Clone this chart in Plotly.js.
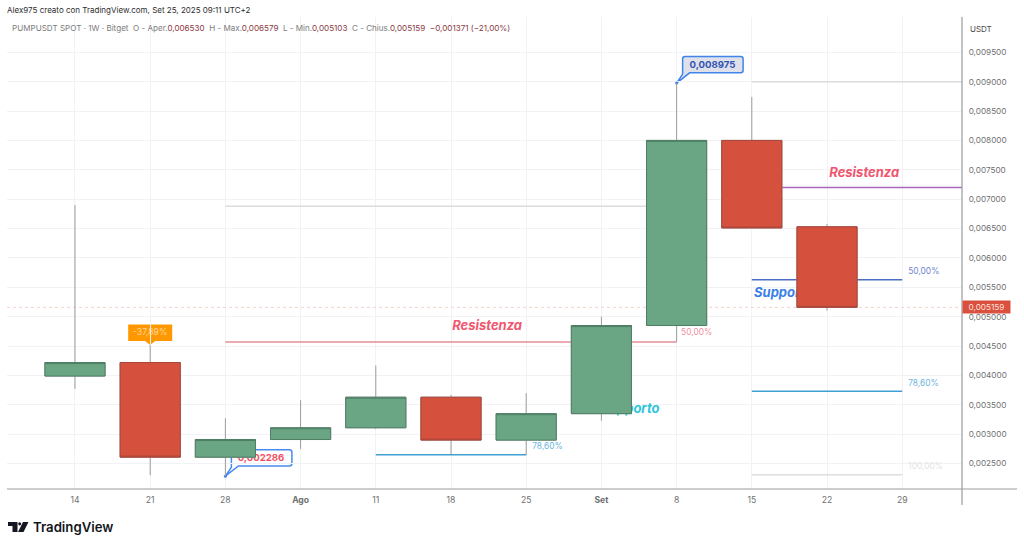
<!DOCTYPE html>
<html><head><meta charset="utf-8">
<script src="https://cdn.plot.ly/plotly-3.0.1.min.js"></script>
<style>html,body{margin:0;padding:0;background:#fff;overflow:hidden}#c{width:1024px;height:547px}</style>
</head><body><div id="c"></div>
<script>
// ---- data ----
const tickLabels = ['14','21','28','<b>Ago</b>','11','18','25','<b>Set</b>','8','15','22','29'];
const weekIdx = [0,1,2,3,4,5,6,7,8,9,10];
const opens  = [0.00399,0.00422,0.00261,0.00291,0.00311,0.00363,0.00290,0.00335,0.00485,0.00800,0.006530];
const highs  = [0.00690,0.00452,0.00327,0.00358,0.00417,0.00367,0.00370,0.00500,0.008975,0.00874,0.006579];
const lows   = [0.00377,0.00230,0.002286,0.00275,0.00309,0.00265,0.00265,0.00323,0.00457,0.00651,0.005103];
const closes = [0.00422,0.00261,0.00291,0.00311,0.00363,0.00290,0.00335,0.00485,0.00800,0.00651,0.005159];
const priceTicks = [0.0025,0.003,0.0035,0.004,0.0045,0.005,0.0055,0.006,0.0065,0.007,0.0075,0.008,0.0085,0.009,0.0095];
const lastPrice = 0.005159;

const levelStart = [9, 9, 2, 2, 9, 9, 4, 9];
const levelEnd   = [11.8,11.8,8,8,11,11,6,11];
const levelValue = [0.00900,0.00720,0.00688,0.00457,0.00563,0.00373,0.00265,0.00231];
const levelColor = ['#dcdcdc','#a868bc','#dcdcdc','#e58e99','#4a6cc4','#3f9fd2','#3f9fd2','#dedede'];

const pctText  = ['0,00%','50,00%','50,00%','78,60%','78,60%','100,00%'];
const pctX     = [8.06,8.06,11.08,11.08,6.08,11.08];
const pctY     = [0.00700,0.00472,0.00577,0.00386,0.00278,0.00245];
const pctColor = ['#e6e6e6','#f08fa3','#6f86cf','#6db6dc','#6db6dc','#e4e4e4'];

const noteText  = ['Resistenza','Resistenza','Supporto','Supporto'];
const noteX     = [5.48,10.03,9.03,7.38];
const noteY     = [0.00483,0.00743,0.00539,0.00342];
const noteColor = ['#f0566e','#f0566e','#3b7fe6','#2ec4da'];
const notePos   = ['middle center','middle right','middle right','middle center'];

const legendLabels = ['O - Aper.','H - Max.','L - Min.','C - Chius.'];
const legendValues = ['0,006530','0,006579','0,005103','0,005159'];
const legendChange = '\u22120,001371 (\u221221,00%)';

// ---- layout geometry ----
const W=1024,H=547,L=7,R=962,T=17,B=489;
const xr=[-0.904,11.795], yr=[0.002068,0.0101];
const xp=x=>(x-L)/(R-L), yp=y=>(B-y)/(B-T);
const fnt='Inter, "Noto Sans", sans-serif';

const levelTraces = levelValue.map((v,i)=>({type:'scatter',mode:'lines',x:[levelStart[i],levelEnd[i]],y:[v,v],
  line:{color:levelColor[i],width:1.5},hoverinfo:'skip',showlegend:false}));
const priceLine = {type:'scatter',mode:'lines',x:xr,y:[lastPrice,lastPrice],line:{color:'#f3d3cf',width:1,dash:'dot'},hoverinfo:'skip',showlegend:false};
const pctTrace = {type:'scatter',mode:'text',x:pctX,y:pctY,text:pctText,textposition:'middle right',
  textfont:{family:fnt,size:8.4,color:pctColor},hoverinfo:'skip',showlegend:false};
const noteTrace = {type:'scatter',mode:'text',x:noteX,y:noteY,text:noteText,textposition:notePos,
  textfont:{family:fnt,size:13,color:noteColor,style:'italic',weight:700},hoverinfo:'skip',showlegend:false};
const calloutText = {type:'scatter',mode:'text',x:[8.477,2.473,1],y:[0.009274,0.002584,0.00473],
  text:['0,008975','0,002286','-37,89%'],textposition:'middle center',
  textfont:{family:fnt,size:[9.6,9.6,8.6],weight:[700,700,400],color:['#3553b5','#ef4f63','#ffd79c']},hoverinfo:'skip',showlegend:false};
const tips = {type:'scatter',mode:'markers',x:[8,2],y:[0.008975,0.002286],marker:{color:'#3f7fe8',size:3},hoverinfo:'skip',showlegend:false};

const wicks = {type:'candlestick',xaxis:'x2',yaxis:'y2',x:weekIdx,open:opens,high:highs,low:lows,close:closes,whiskerwidth:0,
  increasing:{line:{color:'#9c9c9c',width:1},fillcolor:'#6aa584'},decreasing:{line:{color:'#9c9c9c',width:1},fillcolor:'#d6503e'},hoverinfo:'skip',showlegend:false};
const bodies = {type:'candlestick',xaxis:'x2',yaxis:'y2',x:weekIdx,open:opens,close:closes,
  high:opens.map((o,i)=>Math.max(o,closes[i])),low:opens.map((o,i)=>Math.min(o,closes[i])),whiskerwidth:0,
  increasing:{line:{color:'#4f7f66',width:1},fillcolor:'#6aa584'},decreasing:{line:{color:'#a8463a',width:1},fillcolor:'#d6503e'},hoverinfo:'skip',showlegend:false};

const callout=(x,y,path,fill,line)=>({type:'path',layer:'below',xref:'x',yref:'y',xsizemode:'pixel',ysizemode:'pixel',xanchor:x,yanchor:y,path,fillcolor:fill,line:{color:line,width:1.5}});
const tail='M0 0 L6 9 L6 24 Q6 26.5 8.5 26.5 L64 26.5 Q66.5 26.5 66.5 24 L66.5 12.8 Q66.5 10.3 64 10.3 L13 10.3 Z';
const shapes=[
  callout(8,0.008975,tail,'#dfe1ea','#4084ea'),
  callout(2,0.002286,tail,'#ffffff','#4a8af0'),
  {type:'path',layer:'below',xref:'x',yref:'y',xsizemode:'pixel',ysizemode:'pixel',xanchor:1,yanchor:0.00452,
   path:'M0 0 L-5 4 L-22 4 L-22 20.5 L22 20.5 L22 4 L5 4 Z',fillcolor:'#ff9800',line:{width:0}},
  {type:'line',xref:'paper',yref:'paper',x0:0,x1:xp(1017),y0:0,y1:0,line:{color:'#9b9b9b',width:1.2}},
  {type:'line',xref:'paper',yref:'paper',x0:1,x1:1,y0:yp(505),y1:1,line:{color:'#9b9b9b',width:1.2}},
  // TradingView logo mark
  {type:'path',xref:'paper',yref:'paper',line:{width:0},fillcolor:'#131722',
   path:`M${xp(8)} ${yp(522)} L${xp(17.5)} ${yp(522)} L${xp(17.5)} ${yp(532)} L${xp(12.5)} ${yp(532)} L${xp(12.5)} ${yp(526)} L${xp(8)} ${yp(526)} Z`},
  {type:'circle',xref:'paper',yref:'paper',line:{width:0},fillcolor:'#131722',x0:xp(18.2),x1:xp(21.2),y0:yp(525.4),y1:yp(522.2)},
  {type:'path',xref:'paper',yref:'paper',line:{width:0},fillcolor:'#131722',
   path:`M${xp(23)} ${yp(522)} L${xp(28.5)} ${yp(522)} L${xp(23.5)} ${yp(532)} L${xp(18)} ${yp(532)} Z`}
];

const grey='#7d7d7d',dark='#8a3b3f';
const legendParts = legendLabels.map((l,i)=>`<span style="color:${grey}">${l}</span><span style="color:${dark}">${legendValues[i]}</span>`).join('  ');
const annotations=[
  {xref:'paper',yref:'paper',x:xp(5),y:yp(10.5),xanchor:'left',yanchor:'middle',showarrow:false,align:'left',
   text:'Alex975 creato con TradingView.com, Set 25, 2025 09:11 UTC+2',font:{family:fnt,size:8,color:'#2e2e2e'}},
  {xref:'paper',yref:'paper',x:xp(10),y:yp(28.5),xanchor:'left',yanchor:'middle',showarrow:false,align:'left',
   text:`<span style="color:${grey}">PUMPUSDT SPOT \u00b7 1W \u00b7 Bitget</span>  ${legendParts}  <span style="color:${dark}">${legendChange}</span>`,font:{family:fnt,size:8.08,color:grey}},
  {xref:'paper',yref:'paper',x:xp(31),y:yp(527),xanchor:'left',yanchor:'middle',showarrow:false,
   text:'TradingView',font:{family:fnt,size:13.2,color:'#131722',weight:600}},
  {xref:'paper',yref:'paper',x:xp(968),y:yp(29),xanchor:'left',yanchor:'middle',showarrow:false,
   text:'USDT',font:{family:fnt,size:8,color:'#4a4a4a'}},
  {xref:'paper',yref:'y',x:1,y:lastPrice,xanchor:'left',yanchor:'middle',showarrow:false,
   text:'0,005159',bgcolor:'#d9503f',borderpad:1,width:45,height:10,align:'center',font:{family:fnt,size:8.2,color:'#ffe3dc'}}
];

const layout={width:W,height:H,margin:{l:L,r:W-R,t:T,b:H-B,pad:0},paper_bgcolor:'#fff',plot_bgcolor:'#fff',showlegend:false,hovermode:false,
  separators:',.',boxgap:0.2,boxgroupgap:0,
  xaxis:{range:xr,tickmode:'array',tickvals:tickLabels.map((_,i)=>i),ticktext:tickLabels,showgrid:true,gridcolor:'#f0f2f6',gridwidth:1,zeroline:false,
    showline:false,ticks:'outside',ticklen:3,tickcolor:'rgba(0,0,0,0)',tickfont:{family:fnt,size:8.6,color:'#6f6f6f'},fixedrange:true},
  yaxis:{range:yr,side:'right',tickmode:'array',tickvals:priceTicks,tickformat:'.6f',showgrid:true,gridcolor:'#f0f2f6',gridwidth:1,zeroline:false,
    showline:false,ticks:'outside',ticklen:4,tickcolor:'rgba(0,0,0,0)',tickfont:{family:fnt,size:8.2,color:'#6f6f6f'},fixedrange:true},
  xaxis2:{range:xr,overlaying:'x',anchor:'y2',visible:false,rangeslider:{visible:false},fixedrange:true},
  yaxis2:{range:yr,overlaying:'y',anchor:'x2',visible:false,fixedrange:true},
  shapes,annotations};

Plotly.newPlot('c',[...levelTraces,priceLine,pctTrace,noteTrace,calloutText,tips,wicks,bodies],layout,{displayModeBar:false,staticPlot:true});
</script></body></html>
